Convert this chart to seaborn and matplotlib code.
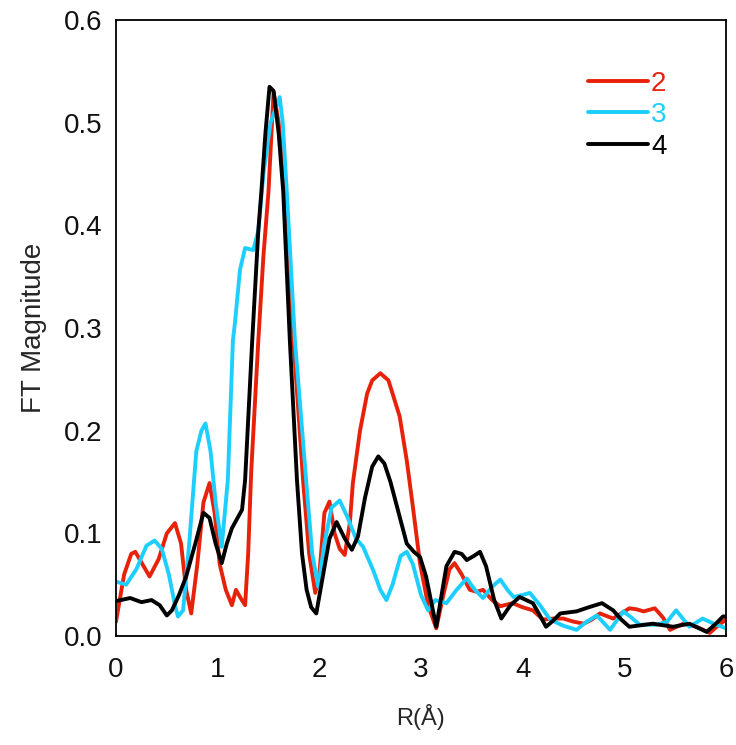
import numpy as np
import pandas as pd
import matplotlib
matplotlib.use("Agg")
import matplotlib.pyplot as plt
import seaborn as sns

# ---- data ----
x2 = [0, 0.08, 0.15, 0.19, 0.26, 0.33, 0.42, 0.5, 0.58, 0.64, 0.69, 0.74, 0.8, 0.86, 0.92,
      0.97, 1.02, 1.08, 1.14, 1.18, 1.22, 1.27, 1.30, 1.33, 1.40, 1.45, 1.50, 1.55, 1.60,
      1.66, 1.70, 1.745, 1.80, 1.84, 1.90, 1.96, 2.00, 2.05, 2.10, 2.15, 2.20, 2.25, 2.30,
      2.33, 2.40, 2.47, 2.52, 2.60, 2.68, 2.79, 2.86, 2.92, 2.99, 3.07, 3.15, 3.22, 3.28,
      3.33, 3.40, 3.48, 3.55, 3.61, 3.70, 3.78, 3.9, 4.0, 4.1, 4.2, 4.3, 4.4, 4.5, 4.6,
      4.68, 4.76, 4.89, 4.97, 5.05, 5.12, 5.19, 5.3, 5.38, 5.45, 5.58, 5.71, 5.84, 5.92,
      6.0]
y2 = [0.014, 0.06, 0.08, 0.082, 0.07, 0.058, 0.075, 0.1, 0.11, 0.09, 0.045, 0.022, 0.07,
      0.13, 0.149, 0.12, 0.07, 0.045, 0.030, 0.045, 0.038, 0.030, 0.08, 0.16, 0.288, 0.37,
      0.433, 0.53, 0.50, 0.433, 0.37, 0.288, 0.21, 0.152, 0.08, 0.042, 0.06, 0.12, 0.131,
      0.10, 0.085, 0.079, 0.11, 0.149, 0.20, 0.236, 0.249, 0.256, 0.249, 0.214, 0.171,
      0.126, 0.071, 0.03, 0.0075, 0.04, 0.065, 0.071, 0.06, 0.045, 0.043, 0.045, 0.035,
      0.029, 0.032, 0.028, 0.025, 0.016, 0.017, 0.017, 0.014, 0.012, 0.016, 0.022, 0.017,
      0.022, 0.027, 0.026, 0.024, 0.027, 0.018, 0.006, 0.012, 0.009, 0.003, 0.010, 0.016]

x3 = [0, 0.1, 0.2, 0.3, 0.38, 0.45, 0.52, 0.58, 0.61, 0.66, 0.72, 0.79, 0.84, 0.88, 0.93,
      0.98, 1.04, 1.10, 1.15, 1.17, 1.22, 1.27, 1.35, 1.40, 1.45, 1.52, 1.61, 1.64, 1.68,
      1.76, 1.87, 1.93, 1.99, 2.05, 2.12, 2.20, 2.28, 2.36, 2.43, 2.53, 2.60, 2.66, 2.72,
      2.80, 2.86, 2.92, 3.0, 3.07, 3.14, 3.25, 3.35, 3.45, 3.53, 3.61, 3.70, 3.78, 3.85,
      3.91, 4.0, 4.07, 4.17, 4.27, 4.4, 4.53, 4.63, 4.73, 4.86, 4.99, 5.07, 5.15, 5.32,
      5.42, 5.51, 5.64, 5.77, 5.88, 6.0]
y3 = [0.053, 0.05, 0.065, 0.088, 0.093, 0.085, 0.06, 0.03, 0.019, 0.025, 0.09, 0.18, 0.20,
      0.207, 0.18, 0.13, 0.087, 0.152, 0.288, 0.305, 0.357, 0.378, 0.376, 0.395, 0.45, 0.50,
      0.525, 0.50, 0.433, 0.288, 0.152, 0.08, 0.048, 0.09, 0.125, 0.132, 0.115, 0.095,
      0.087, 0.064, 0.045, 0.035, 0.05, 0.078, 0.082, 0.07, 0.04, 0.025, 0.035, 0.032,
      0.045, 0.056, 0.045, 0.037, 0.048, 0.055, 0.045, 0.038, 0.040, 0.042, 0.03, 0.016,
      0.010, 0.006, 0.014, 0.020, 0.006, 0.024, 0.018, 0.011, 0.011, 0.014, 0.025, 0.009,
      0.017, 0.012, 0.0075]

x4 = [0, 0.14, 0.25, 0.35, 0.43, 0.5, 0.55, 0.62, 0.69, 0.78, 0.86, 0.92, 0.98, 1.04, 1.09,
      1.14, 1.24, 1.27, 1.34, 1.40, 1.43, 1.47, 1.51, 1.55, 1.60, 1.645, 1.71, 1.78, 1.83,
      1.875, 1.92, 1.97, 2.02, 2.10, 2.17, 2.25, 2.32, 2.38, 2.45, 2.52, 2.58, 2.64, 2.70,
      2.78, 2.86, 2.93, 2.99, 3.05, 3.15, 3.25, 3.33, 3.40, 3.45, 3.52, 3.58, 3.64, 3.72,
      3.79, 3.88, 3.97, 4.1, 4.17, 4.23, 4.30, 4.37, 4.53, 4.65, 4.78, 4.89, 4.97, 5.05,
      5.28, 5.48, 5.64, 5.81, 5.9, 5.97, 6.0]
y4 = [0.034, 0.037, 0.033, 0.035, 0.030, 0.02, 0.025, 0.04, 0.058, 0.09, 0.12, 0.115, 0.09,
      0.071, 0.09, 0.105, 0.123, 0.152, 0.288, 0.395, 0.433, 0.49, 0.535, 0.531, 0.49,
      0.433, 0.288, 0.152, 0.08, 0.045, 0.028, 0.022, 0.05, 0.095, 0.111, 0.095, 0.084,
      0.097, 0.135, 0.165, 0.175, 0.168, 0.15, 0.12, 0.090, 0.082, 0.077, 0.058, 0.009,
      0.068, 0.082, 0.080, 0.074, 0.078, 0.082, 0.068, 0.035, 0.017, 0.030, 0.038, 0.032,
      0.02, 0.009, 0.015, 0.022, 0.024, 0.028, 0.032, 0.025, 0.016, 0.009, 0.012, 0.009,
      0.012, 0.004, 0.012, 0.019, 0.019]

labels = ["2", "3", "4"]
colors = ["#e8220a", "#1ccfff", "#000000"]

x_ticks = [0, 1, 2, 3, 4, 5, 6]
y_ticks = [0.0, 0.1, 0.2, 0.3, 0.4, 0.5, 0.6]

# ---- plotting ----
sns.set_style("white")
plt.rcParams["font.family"] = ["Liberation Sans", "DejaVu Sans"]

fig = plt.figure(figsize=(7.36, 7.45), dpi=100)
ax = fig.add_axes([0.1576, 0.1463, 0.8288, 0.8267])

for xs, ys, lab, col in zip([x2, x3, x4], [y2, y3, y4], labels, colors):
    df = pd.DataFrame({"R": xs, "FT": ys})
    sns.lineplot(data=df, x="R", y="FT", ax=ax, color=col, lw=2.8, label=lab,
                 estimator=None, sort=False)

ax.set_xlim(0, 6)
ax.set_ylim(0, 0.6)
ax.set_xticks(x_ticks)
ax.set_yticks(y_ticks)
ax.set_xticklabels([str(t) for t in x_ticks])
ax.set_yticklabels([f"{t:.1f}" for t in y_ticks])
ax.tick_params(axis="both", direction="in", length=7.5, width=0.8, labelsize=20,
               color="#555555", labelcolor="#111111")
ax.tick_params(axis="y", pad=10)
ax.tick_params(axis="x", pad=15)
ax.tick_params(top=False, right=False)
for s in ax.spines.values():
    s.set_color("black")
    s.set_linewidth(1.3)

ax.set_xlabel("R(Å)", fontsize=17, labelpad=15)
ax.set_ylabel("FT Magnitude", fontsize=20, labelpad=12)

leg = ax.legend(loc="upper left", bbox_to_anchor=(0.774, 0.918), frameon=False,
                fontsize=20, handlelength=2.16, handletextpad=0.1, labelspacing=0.2,
                borderpad=0, borderaxespad=0, labelcolor="linecolor")

fig.savefig("out.png", dpi=100)
